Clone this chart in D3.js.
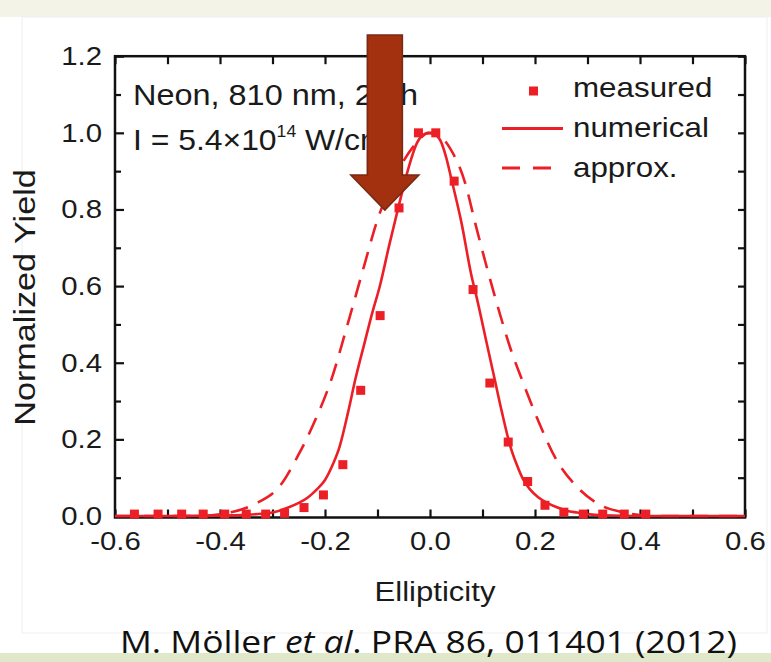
<!DOCTYPE html>
<html><head><meta charset="utf-8">
<script src="https://cdn.jsdelivr.net/npm/d3@7"></script>
<style>body{margin:0;background:#fff} svg{display:block}</style>
</head><body>
<svg id="c" width="771" height="662"></svg>
<script>
// ---------- data ----------
const measuredX = [-0.563,-0.518,-0.473,-0.432,-0.391,-0.350,-0.313,-0.277,-0.240,-0.203,-0.166,-0.132,-0.095,-0.059,-0.022,0.011,0.046,0.082,0.114,0.149,0.186,0.219,0.255,0.292,0.329,0.370,0.411];
const measuredY = [0.005,0.005,0.005,0.005,0.005,0.005,0.005,0.007,0.022,0.055,0.134,0.328,0.523,0.804,1.0,1.0,0.874,0.591,0.347,0.193,0.09,0.028,0.010,0.005,0.005,0.005,0.005];

const numericalX = [-0.6,-0.5,-0.4,-0.35,-0.32,-0.30,-0.27,-0.25,-0.232,-0.215,-0.20,-0.185,-0.172,-0.156,-0.142,-0.125,-0.110,-0.095,-0.078,-0.060,-0.041,-0.025,-0.010,0.003,0.019,0.030,0.041,0.060,0.079,0.089,0.105,0.123,0.137,0.153,0.165,0.178,0.190,0.206,0.225,0.243,0.260,0.280,0.300,0.330,0.400,0.500,0.600];
const numericalY = [0,0,0.001,0.003,0.006,0.009,0.022,0.034,0.049,0.070,0.094,0.135,0.182,0.271,0.358,0.450,0.530,0.603,0.705,0.807,0.908,0.973,0.997,1.0,0.982,0.940,0.878,0.765,0.627,0.570,0.470,0.358,0.271,0.182,0.135,0.094,0.070,0.049,0.033,0.022,0.014,0.009,0.005,0.002,0,0,0];

const approxX = [-0.6,-0.5,-0.45,-0.416,-0.375,-0.334,-0.285,-0.252,-0.219,-0.187,-0.157,-0.124,-0.102,-0.075,-0.051,-0.025,-0.003,0.020,0.038,0.067,0.086,0.110,0.139,0.155,0.174,0.206,0.239,0.280,0.321,0.370,0.410,0.450,0.500,0.600];
const approxY = [0,0,0,0.002,0.011,0.031,0.080,0.156,0.249,0.360,0.500,0.660,0.765,0.860,0.925,0.975,1.0,0.990,0.960,0.869,0.765,0.640,0.500,0.430,0.360,0.249,0.151,0.076,0.031,0.009,0.002,0,0,0];

const xTickValues = [-0.6,-0.4,-0.2,0.0,0.2,0.4,0.6];
const xTickLabels = ["-0.6","-0.4","-0.2","0.0","0.2","0.4","0.6"];
const xMinorValues = [-0.6,-0.5,-0.4,-0.3,-0.2,-0.1,0.0,0.1,0.2,0.3,0.4,0.5,0.6];
const yTickValues = [0.0,0.2,0.4,0.6,0.8,1.0,1.2];
const yTickLabels = ["0.0","0.2","0.4","0.6","0.8","1.0","1.2"];
const yMinorValues = [0.1,0.3,0.5,0.7,0.9,1.1];
const yAllValues = [0.0,0.1,0.2,0.3,0.4,0.5,0.6,0.7,0.8,0.9,1.0,1.1,1.2];
const legendLabels = ["measured","numerical","approx."];

// ---------- layout ----------
const RED = "#ec1f26";
const FONT = "'Liberation Sans', Arial, Helvetica, sans-serif";
const SX = 1.13;
const svg = d3.select("#c");
const L = 115, R = 745, T = 56.2, B = 517.5;
const x = d3.scaleLinear().domain([-0.6, 0.6]).range([L, R]);
const y = d3.scaleLinear().domain([0, 1.2]).range([516, T]);

// page background
svg.append("rect").attr("x",0).attr("y",0).attr("width",771).attr("height",662).attr("fill","#fff");
svg.append("rect").attr("x",0).attr("y",0).attr("width",771).attr("height",17).attr("fill","#f3f3e8");
svg.append("rect").attr("x",0).attr("y",653).attr("width",771).attr("height",9).attr("fill","#dfe8c9");
svg.append("rect").attr("x",22).attr("y",17).attr("width",745).attr("height",616)
  .attr("fill","none").attr("stroke","#efefef").attr("stroke-width",1);

function txt(sel, px, py, s, size, anchor, sx, rot) {
  return sel.append("text")
    .attr("transform", `translate(${px},${py}) rotate(${rot||0}) scale(${sx||SX},1)`)
    .attr("text-anchor", anchor || "start")
    .attr("font-family", FONT).attr("font-size", size)
    .attr("fill", "#1a1a1a").text(s);
}

// frame
svg.append("rect").attr("x",L).attr("y",T).attr("width",R-L).attr("height",B-T)
  .attr("fill","none").attr("stroke","#111").attr("stroke-width",2.5);

// ticks (inward)
function styleTicks(g){ g.select(".domain").remove(); g.selectAll("line").attr("stroke","#111").attr("stroke-width",2.2); g.selectAll("text").remove(); }
svg.append("g").attr("transform",`translate(0,${B})`).call(d3.axisBottom(x).tickValues(xMinorValues).tickSize(-8)).call(styleTicks);
svg.append("g").attr("transform",`translate(0,${T})`).call(d3.axisTop(x).tickValues(xMinorValues).tickSize(-8)).call(styleTicks);
svg.append("g").attr("transform",`translate(${L},0)`).call(d3.axisLeft(y).tickValues(yTickValues).tickSize(-9)).call(styleTicks);
svg.append("g").attr("transform",`translate(${L},0)`).call(d3.axisLeft(y).tickValues(yMinorValues).tickSize(-6)).call(styleTicks);
svg.append("g").attr("transform",`translate(${R},0)`).call(d3.axisRight(y).tickValues(yAllValues).tickSize(-7)).call(styleTicks);

// tick labels
const xl = svg.append("g").attr("transform","translate(0,532)")
  .call(d3.axisBottom(x).tickValues(xTickValues).tickSize(0).tickPadding(0).tickFormat((d,i)=>xTickLabels[i]));
xl.select(".domain").remove();
xl.selectAll("text").attr("font-family",FONT).attr("font-size",26).attr("fill","#1a1a1a").attr("transform",`scale(${SX},1)`);
const yl = svg.append("g").attr("transform","translate(102,0)")
  .call(d3.axisLeft(y).tickValues(yTickValues).tickSize(0).tickPadding(0).tickFormat((d,i)=>yTickLabels[i]));
yl.select(".domain").remove();
yl.selectAll("text").attr("font-family",FONT).attr("font-size",26).attr("fill","#1a1a1a").attr("x",0).attr("transform",`scale(${SX},1)`);

// axis titles
txt(svg, 435, 601, "Ellipticity", 27.5, "middle");
txt(svg, 35, 297.5, "Normalized Yield", 30, "middle", 1.14, -90);

// annotation text
txt(svg, 133, 105, "Neon, 810 nm, 27th", 29.5, "start", 1.1);
const t2 = svg.append("text")
  .attr("transform", `translate(133,150) scale(1.1,1)`)
  .attr("font-family", FONT).attr("font-size", 29).attr("fill","#1a1a1a");
t2.append("tspan").text("I = 5.4×10");
t2.append("tspan").attr("font-size",16).attr("dy",-13).text("14");
t2.append("tspan").attr("dy",13).text(" W/cm");
t2.append("tspan").attr("font-size",16).attr("dy",-13).text("2");

// curves
const line = d3.line().x(d=>x(d[0])).y(d=>y(d[1])).curve(d3.curveMonotoneX);
svg.append("path").datum(approxX.map((v,i)=>[v,approxY[i]]))
  .attr("d",line).attr("fill","none").attr("stroke",RED).attr("stroke-width",2.6)
  .attr("stroke-dasharray","18,11");
svg.append("path").datum(numericalX.map((v,i)=>[v,numericalY[i]]))
  .attr("d",line).attr("fill","none").attr("stroke",RED).attr("stroke-width",2.6);

// measured squares
const S = 9;
svg.append("g").selectAll("rect").data(measuredX.map((v,i)=>[v,measuredY[i]])).join("rect")
  .attr("x",d=>x(d[0])-S/2).attr("y",d=>y(d[1])-S/2).attr("width",S).attr("height",S).attr("fill",RED);

// legend
const lg = svg.append("g");
lg.append("rect").attr("x",529).attr("y",86.5).attr("width",S).attr("height",S).attr("fill",RED);
lg.append("line").attr("x1",502).attr("x2",563).attr("y1",128.5).attr("y2",128.5).attr("stroke",RED).attr("stroke-width",3);
lg.append("line").attr("x1",502).attr("x2",552).attr("y1",168).attr("y2",168).attr("stroke",RED).attr("stroke-width",3).attr("stroke-dasharray","18,13");
legendLabels.forEach((s,i)=>txt(lg, 573, 97 + i*40, s, 28, "start", 1.12));

// arrow annotation
const ax = x(-0.086);
const arrowPts = [[ax-17.5,35],[ax+17.5,35],[ax+17.5,175],[ax+34,175],[ax,210],[ax-34,175],[ax-17.5,175]];
svg.append("polygon").attr("points", arrowPts.map(p=>p.join(",")).join(" "))
  .attr("fill","#a3300f").attr("stroke","#7a2a14").attr("stroke-width",1.6);

// citation
const cit = svg.append("text").attr("x",120).attr("y",653)
  .attr("font-family","'Open Sans', 'Noto Sans', sans-serif").attr("font-size",31).attr("fill","#111");
cit.append("tspan").text("M. Möller ");
cit.append("tspan").attr("font-style","italic").text("et al");
cit.append("tspan").text(". PRA 86, 011401 (2012)");
cit.attr("textLength",617).attr("lengthAdjust","spacingAndGlyphs");
</script>
</body></html>
